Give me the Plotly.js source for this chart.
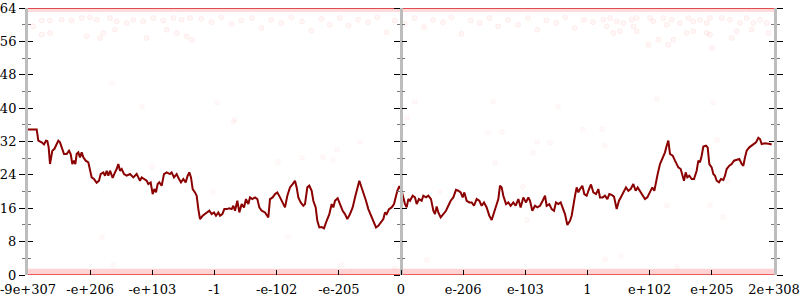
<!DOCTYPE html>
<html><head><meta charset="utf-8">
<script src="https://cdn.plot.ly/plotly-3.0.1.min.js"></script>
<style>html,body{margin:0;padding:0;background:#fff}#chart{width:800px;height:300px}</style>
</head><body><div id="chart"></div>
<script>
// x positions: 0..2238 across the axis (12 equal tick intervals)
const xTickPos = [0,186.5,373,559.5,746,932.5,1119,1305.5,1492,1678.5,1865,2051.5,2238];
const xTickLabels = ['-9e+307','-e+206','-e+103','-1','-e-102','-e-205','0','e-206','e-103','1','e+102','e+205','2e+308'];
const yTickVals = [0,8,16,24,32,40,48,56,64];
const yMinorVals = [4,12,20,28,36,44,52,60];

const lineX = [0,26,31,41,48,54,58,62,66,69,73,79,84,91,96,101,108,116,123,128,133,138,142,146,151,156,161,166,173,181,186,191,198,206,213,218,226,231,236,241,246,254,261,266,271,276,281,288,296,306,316,321,326,331,336,341,348,356,361,368,374,379,384,389,394,401,408,416,426,431,438,446,453,459,466,473,479,484,489,494,501,506,511,516,524,531,538,544,551,558,564,571,576,583,589,596,604,611,616,621,628,634,641,648,654,661,666,673,681,688,694,701,711,721,726,
734,741,748,756,764,771,778,786,794,801,806,811,818,826,831,838,844,851,856,863,868,874,881,888,896,904,911,916,921,929,936,944,951,958,966,974,981,988,994,999,1006,1014,1021,1029,1036,1044,1051,1058,1066,1071,1076,1083,1091,1098,1103,1108,1114,1121,1126,1131,1136,1141,1146,1154,1161,1166,1173,1181,1186,1194,1201,1209,1216,1221,1226,1231,1238,1246,1254,1261,1268,1276,1284,1291,1298,1304,1309,1316,1324,1331,1338,1346,1354,1361,1368,1376,1384,1391,1398,1406,1411,1416,1421,1426,1434,1441,1448,1456,1463,1471,1478,1486,1494,1501,
1506,1513,1521,1528,1536,1544,1551,1556,1564,1571,1578,1584,1591,1598,1604,1611,1618,1626,1631,1636,1641,1646,1651,1656,1663,1669,1676,1683,1689,1696,1704,1711,1716,1724,1731,1738,1744,1751,1758,1766,1773,1781,1788,1794,1801,1808,1816,1823,1829,1836,1844,1851,1858,1866,1873,1879,1884,1889,1896,1904,1911,1916,1921,1926,1934,1941,1946,1951,1958,1964,1968,1973,1978,1984,1991,1998,2006,2011,2016,2021,2026,2034,2039,2044,2051,2056,2061,2066,2073,2079,2086,2091,2096,2104,2111,2118,2126,2134,2141,2146,2151,2156,2164,2171,2178,2184,2191,2196,2201,2211,2226,2231];
const lineY = [34.9,34.9,32.2,31.8,31.3,32.2,32.1,30.6,26.6,28.2,29.8,30.2,31.0,32.2,31.8,30.6,29.0,29.0,29.8,29.0,26.6,27.4,26.6,29.0,29.4,28.2,29.4,28.2,27.4,27.0,25.0,23.4,23.0,22.1,22.6,24.2,24.6,23.8,25.0,23.8,25.0,23.3,24.6,25.4,26.6,25.0,25.4,24.2,23.8,24.2,23.4,23.8,24.2,23.4,22.6,23.4,23.0,22.6,21.8,22.2,19.4,20.6,19.8,21.8,22.2,21.4,24.2,24.6,24.2,24.6,23.4,24.2,23.0,22.2,23.0,22.2,23.8,24.6,23.4,20.6,19.8,19.0,15.8,13.4,14.2,14.6,15.0,15.4,14.6,15.0,14.2,15.0,14.2,14.6,15.8,15.8,16.0,15.8,16.6,15.4,17.8,15.0,17.0,16.2,18.2,17.0,18.6,18.2,18.6,18.2,16.2,15.4,15.0,13.8,18.2,
18.6,19.4,19.8,18.6,17.4,16.2,19.0,21.0,21.8,22.6,21.0,18.6,17.4,16.6,17.0,21.0,21.4,20.2,17.8,16.2,13.0,11.4,11.5,11.2,13.0,14.6,17.0,16.2,17.8,18.4,17.0,15.4,14.6,13.4,14.6,16.2,18.6,21.0,22.6,21.4,19.8,17.8,15.8,14.2,12.6,11.4,11.8,12.6,13.4,15.0,14.6,15.8,16.2,17.0,18.6,20.2,21.3,20.2,18.6,17.0,16.2,18.2,17.8,19.0,18.6,17.0,18.2,17.8,19.0,18.6,19.0,18.2,15.4,14.6,16.4,15.0,13.8,14.6,15.4,16.6,17.8,18.6,20.4,20.2,19.8,18.6,19.8,17.8,17.4,17.4,16.6,18.2,17.8,16.6,17.4,16.2,14.2,13.2,15.0,16.6,18.2,21.4,21.0,19.0,17.0,17.4,16.6,17.4,16.6,18.2,16.2,18.6,17.4,18.6,
17.8,15.4,16.6,16.2,16.6,17.8,19.0,16.6,17.0,15.8,15.4,17.4,17.0,17.4,16.2,14.6,12.0,13.0,14.2,17.0,19.0,21.0,19.8,20.6,21.4,19.4,19.0,20.6,21.7,19.8,19.4,20.6,18.6,18.6,19.0,18.2,19.4,19.2,18.8,15.8,17.8,19.0,20.2,21.0,20.2,20.6,21.8,20.2,21.0,20.2,19.0,18.2,18.6,19.8,21.0,20.2,22.6,24.2,26.6,28.2,29.4,31.0,32.2,29.0,28.6,27.4,26.6,25.8,25.4,23.8,22.6,24.6,23.4,23.8,23.0,23.0,25.0,27.4,27.0,28.6,30.8,31.0,30.6,26.6,25.8,24.2,23.8,22.6,22.2,23.0,22.8,23.8,25.4,26.2,26.6,27.4,27.6,27.8,26.6,26.2,28.2,29.8,30.6,31.0,31.3,31.8,32.9,32.6,31.4,31.6,31.4,31.3];

// faint scattered samples
const topDotsX = [16,41,66,101,131,161,186,206,246,266,296,316,346,376,406,436,461,486,41,66,176,216,226,261,356,416,446,476,491,
520,550,580,610,640,672,700,730,760,790,822,850,880,905,935,962,990,1020,1048,1075,1100,1130,1160,1188,1215,1245,1270,1300,1328,1355,1385,1410,1440,1470,1500,1528,1555,1585,1612,1640,1668,1695,
1726,1746,1766,1786,1811,1826,1736,1756,1776,1816,1826,1866,1876,1906,1916,1931,1956,1981,1996,2016,2036,2046,2081,2106,2126,2136,2156,2176,2196,2216,1861,1891,1921,1936,1976,1996,2036,2046,2051,2111,2171,2221];
const topDotsY = [59.6,61.0,61.0,61.2,61.0,61.6,61.8,61.2,61.6,60.8,60.4,61.2,60.8,61.6,61.0,61.6,61.2,61.6,57.6,58.0,57.2,56.8,58.0,58.8,56.8,58.8,58.0,57.2,56.4,
61.4,60.6,61.8,60.2,61.0,61.6,59.2,61.2,60.4,61.8,60.8,58.6,61.4,60.0,61.6,59.8,61.2,60.6,61.8,58.2,61.0,60.2,61.6,59.4,61.2,60.6,61.8,57.8,61.0,60.4,61.6,59.6,61.2,60.0,61.6,58.8,61.0,60.4,61.8,59.2,61.2,60.6,
61.2,61.6,60.8,60.4,61.2,61.6,59.6,58.0,58.4,59.6,58.4,61.6,60.8,61.6,60.0,61.2,60.4,61.6,60.8,61.2,60.4,61.6,61.6,61.2,58.4,60.4,61.6,60.4,61.2,60.4,55.2,56.4,55.2,56.4,58.0,58.4,58.0,57.6,54.4,56.8,58.8,58.0];
const midDotsX = [567,621,996,927,915,885,822,750,555,780,1161,1395,1590,1137,1380,1422,1527,1566,1665,1515,1401,1236,1485,1497,1722,1731,2067,2055,1887,2100,1917,2046,2085,1731,1779,1947,342,372,615,222,255,942,1197,1101,252];
const midDotsY = [41.3,37.2,31.9,30.0,27.6,28.3,28.1,27.1,19.9,9.1,41.5,41.5,40.3,37.7,34.1,34.3,31.9,31.7,34.8,29.3,26.9,19.9,21.1,13.2,35.0,31.0,32.4,41.3,42.2,22.6,16.6,16.8,13.9,3.8,4.6,1.9,40.3,25.9,36.7,9.1,2.4,2.4,3.6,1.7,46.1];
// saturated bands of samples at the top and bottom of the range
const bandX = [0, 2238];
const topBandY = [64, 64];
const topHaloY = [63.5, 63.5];
const bottomBandY = [0, 0];
const bottomHaloY = [0.8, 0.8];

const topDotStyle = {size:5, color:'rgba(255,0,0,0.035)', line:{color:'rgba(255,0,0,0.06)', width:1}};
const midDotStyle = {size:5, color:'rgba(255,0,0,0.025)', line:{color:'rgba(255,0,0,0.035)', width:1}};
const traces = [
  {x:topDotsX, y:topDotsY, mode:'markers', marker:topDotStyle, yaxis:'y', hoverinfo:'skip', cliponaxis:false},
  {x:midDotsX, y:midDotsY, mode:'markers', marker:midDotStyle, yaxis:'y2', hoverinfo:'skip'},
  {x:bandX, y:bottomHaloY, mode:'lines', line:{color:'rgba(255,80,80,0.25)', width:6}, yaxis:'y3', hoverinfo:'skip', cliponaxis:false},
  {x:bandX, y:bottomBandY, mode:'lines', line:{color:'rgba(220,40,40,0.7)', width:2}, yaxis:'y4', hoverinfo:'skip', cliponaxis:false},
  {x:bandX, y:topHaloY, mode:'lines', line:{color:'rgba(255,90,90,0.22)', width:4}, yaxis:'y5', hoverinfo:'skip', cliponaxis:false},
  {x:bandX, y:topBandY, mode:'lines', line:{color:'rgba(220,40,40,0.8)', width:2}, yaxis:'y6', hoverinfo:'skip', cliponaxis:false},
  {x:lineX, y:lineY, mode:'lines', line:{color:'#8b0000', width:2}, yaxis:'y', hoverinfo:'skip'}
];

const font = {family:'DejaVu Serif', size:13, color:'#000'};
function yax(extra){
  return Object.assign({
    range:[0,64], tickmode:'array', tickvals:yTickVals, showgrid:false, zeroline:false,
    showline:true, linecolor:'#bdbdbd', linewidth:3,
    ticklen:6, tickwidth:1, tickcolor:'#000', showticklabels:false,
    fixedrange:true
  }, extra);
}
function minor(dir, len){ return {tickmode:'array', tickvals:yMinorVals, ticks:dir, ticklen:len, tickcolor:'#777', tickwidth:1, showgrid:false}; }
const layout = {
  width:800, height:300, showlegend:false,
  margin:{l:28, r:26, t:8, b:25, pad:0},
  paper_bgcolor:'#fff', plot_bgcolor:'#fff', font:font,
  xaxis:{range:[0,2238], tickmode:'array', tickvals:xTickPos, ticktext:xTickLabels, ticks:'inside', ticklen:5,
         tickcolor:'#000', tickwidth:1, showgrid:false, zeroline:false, showline:false,
         tickfont:font, ticklabeloverflow:'allow', ticklabelstandoff:5, fixedrange:true},
  yaxis: yax({ticks:'outside', showticklabels:true, tickfont:font, side:'left', anchor:'x', minor:minor('outside',3)}),
  yaxis2: yax({overlaying:'y', ticks:'inside', ticklen:5, side:'left', anchor:'x', showline:false, minor:minor('inside',3)}),
  yaxis3: yax({overlaying:'y', ticks:'outside', side:'left', anchor:'free', position:0.5, minor:minor('outside',3)}),
  yaxis4: yax({overlaying:'y', ticks:'inside', ticklen:5, side:'left', anchor:'free', position:0.5, showline:false, minor:minor('inside',3)}),
  yaxis5: yax({overlaying:'y', ticks:'outside', side:'right', anchor:'x', minor:minor('outside',3)}),
  yaxis6: yax({overlaying:'y', ticks:'inside', ticklen:5, side:'right', anchor:'x', showline:false, minor:minor('inside',3)})
};
Plotly.newPlot('chart', traces, layout, {displayModeBar:false, staticPlot:true});
</script></body></html>
